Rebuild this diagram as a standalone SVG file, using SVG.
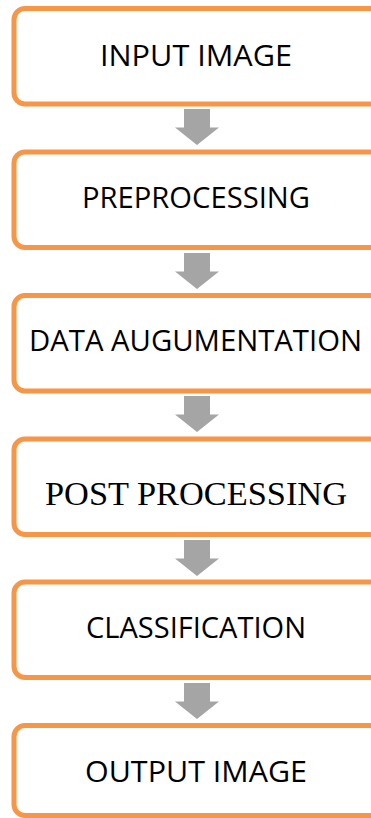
<svg xmlns="http://www.w3.org/2000/svg" width="371" height="818" viewBox="0 0 371 818">
  <style>
    .box { fill: #FFFFFF; stroke: #F79646; stroke-width: 5; }
    .lbl { font-family: "Open Sans", "Liberation Sans", sans-serif; font-size: 30px; fill: #000000; text-anchor: middle; }
    .serif { font-family: "Liberation Serif", "Times New Roman", serif; font-size: 34px; fill: #000000; text-anchor: middle; }
    .arrow { fill: #A5A5A5; stroke: none; }
  </style>
  <defs>
    <path id="downArrow" d="M -13 0 L 13 0 L 13 18.5 L 22 18.5 L 0 36 L -22 18.5 L -13 18.5 Z"/>
  </defs>
  <rect x="0" y="0" width="371" height="818" fill="#FFFFFF"/>

  <g id="connectors">
    <use href="#downArrow" class="arrow" x="197" y="109"/>
    <use href="#downArrow" class="arrow" x="197" y="253"/>
    <use href="#downArrow" class="arrow" x="197" y="396"/>
    <use href="#downArrow" class="arrow" x="197" y="540"/>
    <use href="#downArrow" class="arrow" x="197" y="683"/>
  </g>

  <g id="node-input">
    <rect class="box" x="14" y="8.5" width="370" height="95.5" rx="11" ry="11"/>
    <text class="lbl" x="196" y="66" textLength="192" lengthAdjust="spacingAndGlyphs">INPUT IMAGE</text>
  </g>
  <g id="node-preprocessing">
    <rect class="box" x="14" y="152" width="370" height="95.5" rx="11" ry="11"/>
    <text class="lbl" x="196" y="208" textLength="228" lengthAdjust="spacingAndGlyphs">PREPROCESSING</text>
  </g>
  <g id="node-augmentation">
    <rect class="box" x="14" y="295.5" width="370" height="95.5" rx="11" ry="11"/>
    <text class="lbl" x="195.5" y="351" textLength="333" lengthAdjust="spacingAndGlyphs">DATA AUGUMENTATION</text>
  </g>
  <g id="node-postprocessing">
    <rect class="box" x="14" y="439" width="370" height="95.5" rx="11" ry="11"/>
    <text class="serif" x="196" y="505" textLength="302" lengthAdjust="spacingAndGlyphs">POST PROCESSING</text>
  </g>
  <g id="node-classification">
    <rect class="box" x="14" y="582" width="370" height="95.5" rx="11" ry="11"/>
    <text class="lbl" x="196" y="638" textLength="220" lengthAdjust="spacingAndGlyphs">CLASSIFICATION</text>
  </g>
  <g id="node-output">
    <rect class="box" x="14" y="725.5" width="370" height="90" rx="11" ry="11"/>
    <text class="lbl" x="196" y="782" textLength="222" lengthAdjust="spacingAndGlyphs">OUTPUT IMAGE</text>
  </g>
</svg>
